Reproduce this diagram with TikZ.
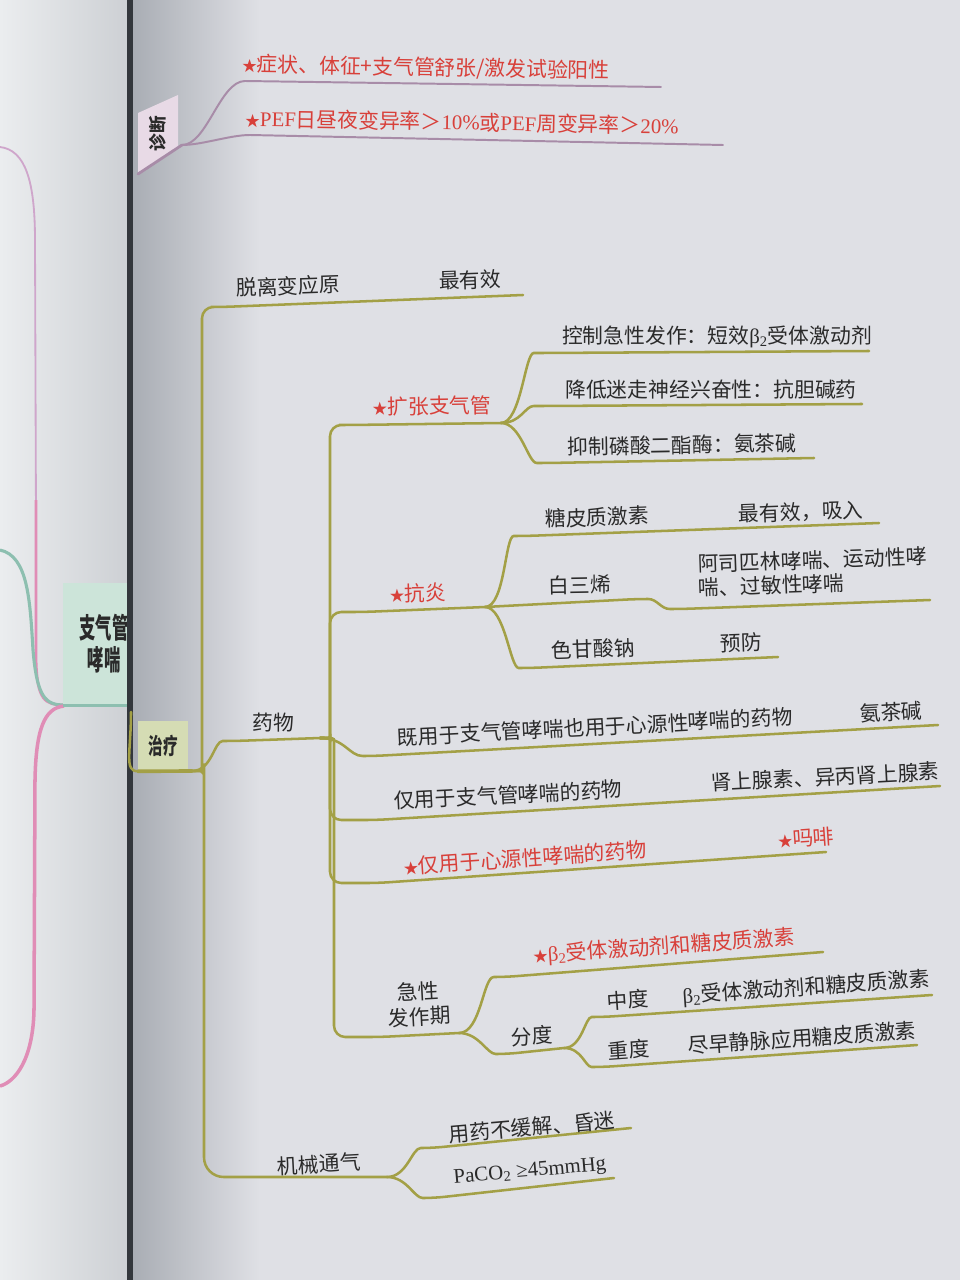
\documentclass[tikz,border=0pt]{standalone}
\usepackage{fontspec}
\setmainfont{Liberation Serif}
\newfontfamily\cjk{Noto Sans CJK SC}
\definecolor{PageRight}{HTML}{DFE0E5}
\definecolor{PageLeft}{HTML}{EBEDEF}
\definecolor{PageLeftDark}{HTML}{CDD0D4}
\definecolor{PageShade}{HTML}{A9ADB4}
\definecolor{GutterDark}{HTML}{33373C}
\definecolor{OliveLine}{HTML}{A3A046}
\definecolor{MauveLine}{HTML}{A88CA8}
\definecolor{InkRed}{HTML}{D8403A}
\definecolor{InkBlack}{HTML}{2A2A2A}
\definecolor{CureFill}{HTML}{D5DCB4}
\definecolor{DiagFill}{HTML}{E8DAE6}
\definecolor{RootFill}{HTML}{CCE4D9}
\definecolor{RootLine}{HTML}{8DBFB0}
\definecolor{PinkLine}{HTML}{E08DB6}
\definecolor{LilacLine}{HTML}{CFA6CB}
\newcommand{\bodysize}{\fontsize{14.8pt}{17pt}\selectfont}
\newcommand{\boxsize}{\fontsize{16pt}{18pt}\selectfont}
\newcommand{\lat}[1]{{\rmfamily #1}}
\newcommand{\btwo}{\lat{β\textsubscript{2}}}
\newcommand{\hotstar}{{\fontsize{10.5pt}{10pt}\selectfont ★}}

\begin{document}
\begin{tikzpicture}[x=0.025cm,y=-0.025cm,font=\cjk\bodysize,
    every node/.style={inner sep=0pt,text=InkBlack},
    txt/.style={rotate=#1},txt/.default=0,
    hot/.style={rotate=#1,text=InkRed},hot/.default=0,
    oline/.style={draw=OliveLine,line width=1.8pt,line cap=round,rounded corners=8pt},
    mline/.style={draw=MauveLine,line width=1.4pt,line cap=round},
    twig/.style={to path={.. controls +(#1,0) and +(-#1,0) .. (\tikztotarget)}},twig/.default=20,
    elbowup/.style={to path={.. controls +(#1,0) .. +(#1,-#1) |- (\tikztotarget)}},elbowup/.default=10,
    elbowdn/.style={to path={.. controls +(#1,0) .. +(#1,#1) |- (\tikztotarget)}},elbowdn/.default=10]
    \useasboundingbox (0,0) rectangle (960,1280);
    % pages and gutter
    \fill[PageRight] (0,0) rectangle (960,1280);
    \shade[left color=PageShade,right color=PageRight] (132,0) rectangle (260,1280);
    \begin{scope}
      \clip (0,0) rectangle (128,1280);
      \shade[left color=PageLeft,right color=PageLeftDark] (0,0) rectangle (128,1280);
      \draw[LilacLine,line width=1.3pt] (0,147) .. controls (25,150) and (35,180) .. (35,240) -- (36,520);
      \draw[PinkLine,line width=2pt] (36,500) -- (36,660) .. controls (37,700) and (45,705) .. (64,705);
      \draw[RootLine,line width=2.2pt] (0,550) .. controls (28,556) and (30,600) .. (33,650)
        .. controls (37,698) and (46,705) .. (64,705);
      \draw[PinkLine,line width=2.5pt] (64,706) .. controls (44,708) and (36,730) .. (35,780)
        -- (34,1010) .. controls (33,1060) and (15,1082) .. (0,1086);
      % root box, squeezed by the gutter
      \node[fill=RootFill,xscale=0.58,minimum width=3.55cm,minimum height=3.05cm,align=center,
        font=\cjk\fontsize{20pt}{23pt}\selectfont\bfseries] (root) at (104,644) {支气管\\哮喘};
      \draw[RootLine,line width=2.5pt] (root.south west) -- (root.south east);
    \end{scope}
    \fill[GutterDark] (127,0) rectangle (133,1280);

    % diagnosis part
    \fill[DiagFill] (138,113) -- (178,95) -- (178,147) -- (138,173) -- cycle;
    \node[rotate=90,font=\cjk\fontsize{12.5pt}{14pt}\selectfont\bfseries] (zd) at (158,134) {诊断};
    \coordinate (zdl) at (138,174);
    \coordinate (zdhub) at (182,145);
    \draw[mline,line width=2pt] (zdl) -- (zdhub);
    \coordinate (d1s) at (245,81);
    \coordinate (d1e) at (661,87);
    \coordinate (d2s) at (250,135);
    \coordinate (d2e) at (723,145);
    \draw[mline] (zdhub) to[twig=25] (d1s) -- (d1e);
    \draw[mline] (zdhub) to[twig] (d2s) -- (d2e);
    \node[hot=-1] (t1) at (426,68) {\hotstar 症状、体征+支气管舒张/激发试验阳性};
    \node[hot=-1] (t2) at (462,122) {\hotstar\lat{PEF}日昼夜变异率＞\lat{10\%}或\lat{PEF}周变异率＞\lat{20\%}};

    % treatment part
    \node[fill=CureFill,xscale=0.65,minimum width=1.92cm,minimum height=1.25cm,
      font=\cjk\boxsize\bfseries] (zl) at (163,746) {治疗};
    \coordinate (zlhub) at (192,771);
    \coordinate (zlin) at (131,712);
    \draw[oline] (zlin) .. controls +(0,40) and +(-14,0) .. (zl.south west);
    \draw[oline,line width=2.6pt] (zl.south west) -- (zlhub);
    \coordinate (tuos) at (222,307);
    \coordinate (tuoe) at (523,295);
    \coordinate (yws) at (234,741);
    \coordinate (ywhub) at (320,738);
    \coordinate (jxs) at (262,1177);
    \coordinate (jxhub) at (387,1177);
    \draw[oline] (zlhub) to[elbowup] (tuos) -- (tuoe);
    \draw[oline] (zlhub) to[twig] (yws) -- (ywhub);
    \draw[oline,rounded corners=14pt] (zlhub) to[elbowdn=12] (jxs) -- (jxhub);
    \node[txt=2] (tuo) at (288,286) {脱离变应原};
    \node[txt=2] (tuor) at (470,280) {最有效};
    \node (yw) at (273,723) {药物};

    % bronchodilators
    \coordinate (kzs) at (350,425);
    \coordinate (kzhub) at (501,423);
    \coordinate (kz1s) at (545,353);
    \coordinate (kz1e) at (869,351);
    \coordinate (kz2s) at (545,406);
    \coordinate (kz2e) at (862,404);
    \coordinate (kz3s) at (548,463);
    \coordinate (kz3e) at (814,458);
    \draw[oline] (ywhub) to[elbowup] (kzs) -- (kzhub);
    \draw[oline] (kzhub) to[twig] (kz1s) -- (kz1e);
    \draw[oline] (kzhub) to[twig] (kz2s) -- (kz2e);
    \draw[oline] (kzhub) to[twig] (kz3s) -- (kz3e);
    \node[hot=1] (kz) at (432,406) {\hotstar 扩张支气管};
    \node (kz1) at (717,337) {控制急性发作：短效\btwo{}受体激动剂};
    \node (kz2) at (711,390) {降低迷走神经兴奋性：抗胆碱药};
    \node[txt=1] (kz3) at (682,445) {抑制磷酸二酯酶：氨茶碱};

    % anti-inflammatory
    \coordinate (kys) at (363,612);
    \coordinate (kyhub) at (485,607);
    \coordinate (ky1s) at (525,536);
    \coordinate (ky1e) at (879,523);
    \coordinate (ky2a) at (637,599);
    \coordinate (ky2b) at (681,609);
    \coordinate (ky2e) at (930,600);
    \coordinate (ky3s) at (530,668);
    \coordinate (ky3e) at (778,657);
    \draw[oline] (ywhub) to[elbowup] (kys) -- (kyhub);
    \draw[oline] (kyhub) to[twig] (ky1s) -- (ky1e);
    \draw[oline] (kyhub) -- (ky2a) to[twig] (ky2b) -- (ky2e);
    \draw[oline] (kyhub) to[twig] (ky3s) -- (ky3e);
    \node[hot=1] (ky) at (418,593) {\hotstar 抗炎};
    \node[txt=2] (ky1) at (597,517) {糖皮质激素};
    \node[txt=2] (ky1r) at (801,512) {最有效，吸入};
    \node[txt=1] (ky2) at (580,585) {白三烯};
    \node[txt=2,anchor=west,align=left] (ky2r) at (698,576)
      {阿司匹林哮喘、运动性哮\\喘、过敏性哮喘};
    \node[txt=2] (ky3) at (593,649) {色甘酸钠};
    \node[txt=2] (ky3r) at (741,643) {预防};

    % drug groups
    \coordinate (jys) at (374,756);
    \coordinate (jye) at (938,725);
    \coordinate (jzs) at (376,820);
    \coordinate (jze) at (940,786);
    \coordinate (xys) at (378,883);
    \coordinate (xye) at (826,852);
    \draw[oline] (ywhub) to[twig=25] (jys) -- (jye);
    \draw[oline] (ywhub) to[elbowdn] (jzs) -- (jze);
    \draw[oline] (ywhub) to[elbowdn] (xys) -- (xye);
    \node[txt=3] (jy) at (595,727) {既用于支气管哮喘也用于心源性哮喘的药物};
    \node[txt=3] (jyr) at (891,712) {氨茶碱};
    \node[txt=3] (jz) at (508,795) {仅用于支气管哮喘的药物};
    \node[txt=3] (jzr) at (825,777) {肾上腺素、异丙肾上腺素};
    \node[hot=4] (xy) at (525,858) {\hotstar 仅用于心源性哮喘的药物};
    \node[hot=4] (xyr) at (806,838) {\hotstar 吗啡};

    % acute attack
    \coordinate (jfs) at (380,1037);
    \coordinate (jfhub) at (459,1033);
    \coordinate (jf1s) at (505,977);
    \coordinate (jf1e) at (823,952);
    \coordinate (fds) at (507,1054);
    \coordinate (fdhub) at (564,1048);
    \coordinate (fd1s) at (603,1017);
    \coordinate (fd1e) at (932,995);
    \coordinate (fd2s) at (603,1067);
    \coordinate (fd2e) at (917,1045);
    \draw[oline] (ywhub) to[elbowdn=14] (jfs) -- (jfhub);
    \draw[oline] (jfhub) to[twig=22] (jf1s) -- (jf1e);
    \draw[oline] (jfhub) to[twig] (fds) -- (fdhub);
    \draw[oline] (fdhub) to[twig=18] (fd1s) -- (fd1e);
    \draw[oline] (fdhub) to[twig=18] (fd2s) -- (fd2e);
    \node[txt=3,align=center,font=\cjk\fontsize{14.8pt}{18pt}\selectfont] (jf) at (419,1004) {急性\\发作期};
    \node[hot=4] (jf1) at (664,947) {\hotstar\btwo{}受体激动剂和糖皮质激素};
    \node[txt=3] (fd) at (532,1036) {分度};
    \node[txt=4] (fd1) at (628,1000) {中度};
    \node[txt=4] (fd1r) at (806,988) {\btwo{}受体激动剂和糖皮质激素};
    \node[txt=4] (fd2) at (629,1050) {重度};
    \node[txt=4] (fd2r) at (802,1038) {尽早静脉应用糖皮质激素};

    % ventilation
    \coordinate (jx1s) at (432,1148);
    \coordinate (jx1e) at (631,1128);
    \coordinate (jx2s) at (434,1198);
    \coordinate (jx2e) at (614,1178);
    \draw[oline] (jxhub) to[twig] (jx1s) -- (jx1e);
    \draw[oline] (jxhub) to[twig] (jx2s) -- (jx2e);
    \node[txt=3] (jx) at (319,1164) {机械通气};
    \node[txt=5] (jx1) at (532,1127) {用药不缓解、昏迷};
    \node[txt=5] (jx2) at (530,1172) {\lat{PaCO\textsubscript{2} ≥45mmHg}};
\end{tikzpicture}
\end{document}
